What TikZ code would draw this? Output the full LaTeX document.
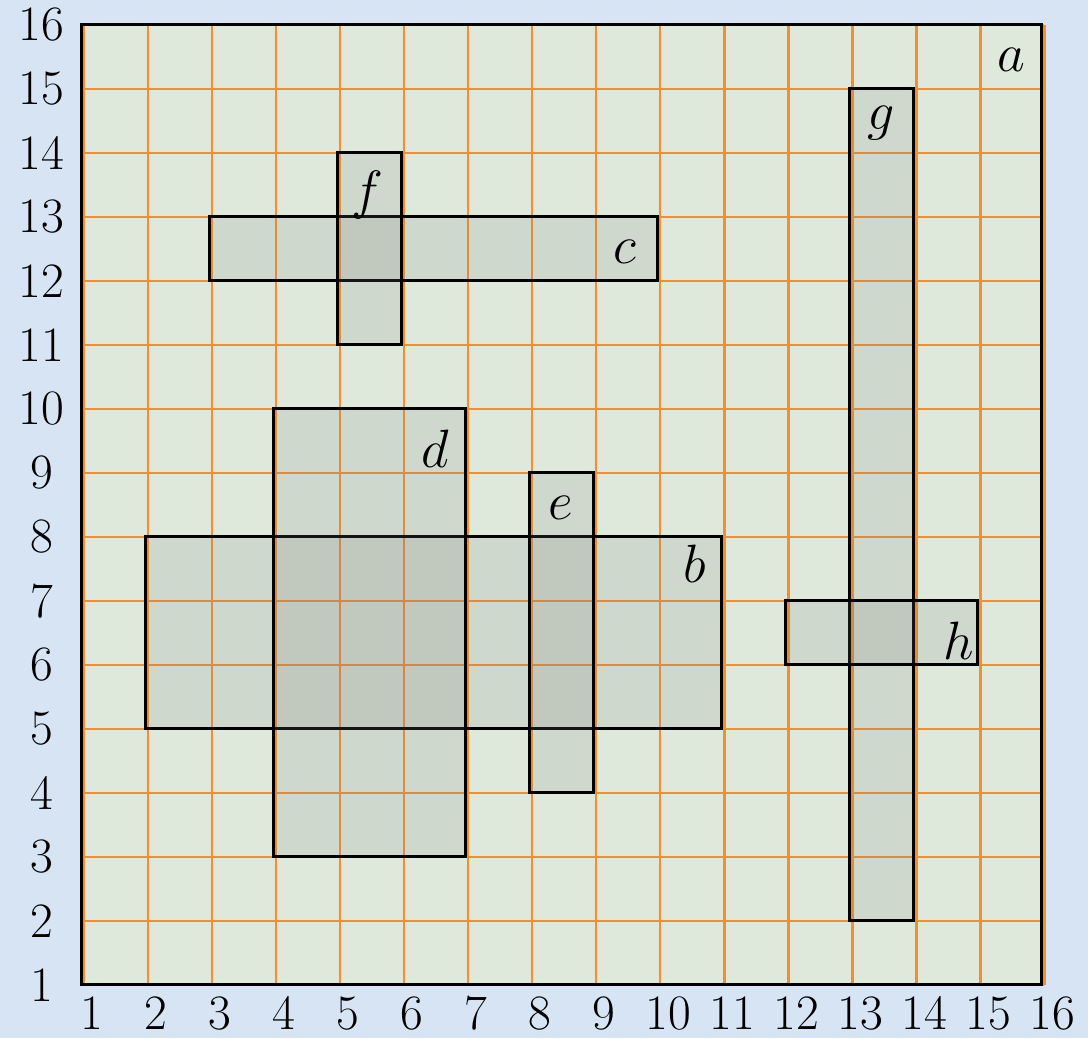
\RequirePackage{fix-cm}
\documentclass[tikz,border=0pt]{standalone}
\usepackage{amsmath}
\usepackage{amssymb}
\usepackage[dvipsnames]{xcolor}
\usepackage{tikz}
\definecolor{paper}{RGB}{214,228,244}
\definecolor{inner}{RGB}{222,233,219}
\definecolor{gridline}{RGB}{246,142,44}

\begin{document}
\begin{tikzpicture}[line width=1.3pt, box/.style = {draw=black, fill=gray, fill opacity=0.16}, tag/.style = {anchor=base, font=\fontsize{24}{28}\selectfont}, num/.style = {inner sep=0pt, font=\fontsize{22}{26}\selectfont}]
    \fill[paper] (-0.28,0.17) rectangle (16.72,16.39);
    \useasboundingbox (-0.28,0.17) rectangle (16.72,16.39);
    \fill[inner] (1,1) rectangle (16,16);
    \foreach \i in {1,...,16} {
        \draw[gridline, line width=0.9pt] (\i+0.04,1) -- (\i+0.04,16);
        \draw[gridline, line width=0.9pt] (1,\i) -- (16.04,\i);
        \node[num] (x\i) at (\i+0.16,0.56) {\i};
        \node[num] (y\i) at (0.37,\i) {\i};
    }
    % the rectangles
    \draw (1,1) rectangle (16,16);
    \filldraw[box] (2,5) rectangle (11,8);
    \filldraw[box] (3,12) rectangle (10,13);
    \filldraw[box] (4,3) rectangle (7,10);
    \filldraw[box] (8,4) rectangle (9,9);
    \filldraw[box] (5,11) rectangle (6,14);
    \filldraw[box] (13,2) rectangle (14,15);
    \filldraw[box] (12,6) rectangle (15,7);
    % their names
    \node[tag] (a) at (15.52,15.27) {$a$};
    \node[tag] (b) at (10.58,7.29) {$b$};
    \node[tag] (c) at (9.49,12.28) {$c$};
    \node[tag] (d) at (6.52,9.09) {$d$};
    \node[tag] (e) at (8.48,8.27) {$e$};
    \node[tag] (f) at (5.46,13.13) {$f$};
    \node[tag] (g) at (13.49,14.36) {$g$};
    \node[tag] (h) at (14.70,6.09) {$h$};
\end{tikzpicture}
\end{document}
